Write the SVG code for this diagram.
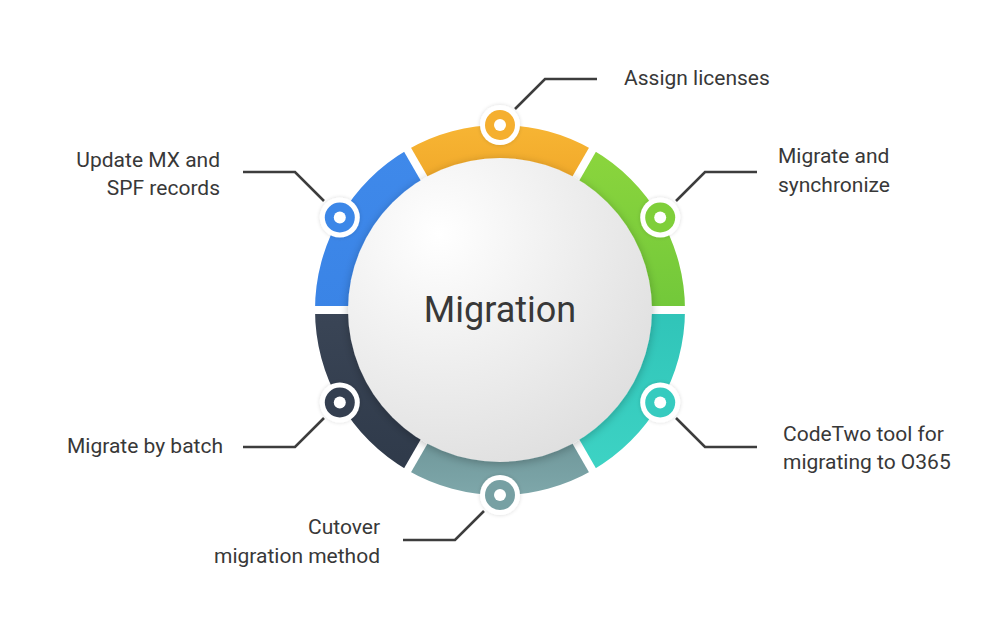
<svg xmlns="http://www.w3.org/2000/svg" width="1000" height="626" viewBox="0 0 1000 626">
<style>
.lbl{font-family:Roboto,"Liberation Sans",sans-serif;font-size:21px;fill:#383838}
.end{text-anchor:end}
.conn{fill:none;stroke:#3d3d3d;stroke-width:2.6}
.gap{stroke:#ffffff;stroke-width:8}
.halo{fill:#ffffff}
.hole{fill:#ffffff}
</style>
<defs>
<radialGradient id="cg" cx="0.3" cy="0.25" r="0.85">
<stop offset="0" stop-color="#ffffff"/>
<stop offset="1" stop-color="#dedede"/>
</radialGradient>
<linearGradient id="gOr" x1="0" y1="0" x2="0" y2="1"><stop offset="0" stop-color="#f7b534"/><stop offset="1" stop-color="#f1a92a"/></linearGradient>
<linearGradient id="gGr" x1="0" y1="0" x2="0" y2="1"><stop offset="0" stop-color="#8bd53d"/><stop offset="1" stop-color="#72c83a"/></linearGradient>
<linearGradient id="gTe" x1="0" y1="0" x2="0" y2="1"><stop offset="0" stop-color="#30c4b8"/><stop offset="1" stop-color="#3dd3c4"/></linearGradient>
<linearGradient id="gSl" x1="0" y1="0" x2="0" y2="1"><stop offset="0" stop-color="#6f979a"/><stop offset="1" stop-color="#7ea7aa"/></linearGradient>
<linearGradient id="gDk" x1="0" y1="0" x2="0" y2="1"><stop offset="0" stop-color="#3a4556"/><stop offset="1" stop-color="#2f3a4a"/></linearGradient>
<linearGradient id="gBl" x1="0" y1="0" x2="0" y2="1"><stop offset="0" stop-color="#3f89ea"/><stop offset="1" stop-color="#3a84e6"/></linearGradient>
<filter id="sh" x="-20%" y="-20%" width="140%" height="140%">
<feGaussianBlur in="SourceAlpha" stdDeviation="5"/>
<feOffset dx="0" dy="2" result="b"/>
<feComponentTransfer><feFuncA type="linear" slope="0.25"/></feComponentTransfer>
<feMerge><feMergeNode/><feMergeNode in="SourceGraphic"/></feMerge>
</filter>
<filter id="dsh" x="-50%" y="-50%" width="200%" height="200%">
<feGaussianBlur in="SourceAlpha" stdDeviation="2"/>
<feComponentTransfer><feFuncA type="linear" slope="0.15"/></feComponentTransfer>
<feMerge><feMergeNode/><feMergeNode in="SourceGraphic"/></feMerge>
</filter>
</defs>
<rect width="1000" height="626" fill="#ffffff"/>

<g id="ring">
<path fill="url(#gOr)" d="M592.5,149.79 A185,185 0 0 0 407.5,149.79 L425,180.1 A150,150 0 0 1 575,180.1 Z"/>
<path fill="url(#gGr)" d="M685,310 A185,185 0 0 0 592.5,149.79 L575,180.1 A150,150 0 0 1 650,310 Z"/>
<path fill="url(#gTe)" d="M592.5,470.21 A185,185 0 0 0 685,310 L650,310 A150,150 0 0 1 575,439.9 Z"/>
<path fill="url(#gSl)" d="M407.5,470.21 A185,185 0 0 0 592.5,470.21 L575,439.9 A150,150 0 0 1 425,439.9 Z"/>
<path fill="url(#gDk)" d="M315,310 A185,185 0 0 0 407.5,470.21 L425,439.9 A150,150 0 0 1 350,310 Z"/>
<path fill="url(#gBl)" d="M407.5,149.79 A185,185 0 0 0 315,310 L350,310 A150,150 0 0 1 425,180.1 Z"/>
<line class="gap" x1="300" y1="310" x2="700" y2="310"/>
<line class="gap" x1="597.5" y1="141.1" x2="402.5" y2="478.9"/>
<line class="gap" x1="402.5" y1="141.1" x2="597.5" y2="478.9"/>
</g>

<g id="center">
<circle cx="500" cy="310" r="152" fill="url(#cg)" filter="url(#sh)"/>
<text x="500" y="322" text-anchor="middle" style="font-family:Roboto,'Liberation Sans',sans-serif;font-size:36px;fill:#383838">Migration</text>
</g>

<g id="connectors">
<path class="conn" d="M515,109 L545,79 L597,79"/>
<path class="conn" d="M676,201 L705,172 L757,172"/>
<path class="conn" d="M676,418 L705,447 L757,447"/>
<path class="conn" d="M484,511 L455,540 L403,540"/>
<path class="conn" d="M324,418 L295,447 L243,447"/>
<path class="conn" d="M324,201 L295,172 L243,172"/>
</g>

<g id="node-assign">
<circle class="halo" cx="500" cy="125" r="20" filter="url(#dsh)"/>
<circle cx="500" cy="125" r="15" fill="#f5af2f"/>
<circle class="hole" cx="500" cy="125" r="6"/>
<text class="lbl" x="624" y="85">Assign licenses</text>
</g>
<g id="node-sync">
<circle class="halo" cx="660.2" cy="217.5" r="20" filter="url(#dsh)"/>
<circle cx="660.2" cy="217.5" r="15" fill="#7fcf3a"/>
<circle class="hole" cx="660.2" cy="217.5" r="6"/>
<text class="lbl" x="778" y="163">Migrate and</text>
<text class="lbl" x="778" y="192">synchronize</text>
</g>
<g id="node-codetwo">
<circle class="halo" cx="660.2" cy="402.5" r="20" filter="url(#dsh)"/>
<circle cx="660.2" cy="402.5" r="15" fill="#36cbbf"/>
<circle class="hole" cx="660.2" cy="402.5" r="6"/>
<text class="lbl" x="783" y="441">CodeTwo tool for</text>
<text class="lbl" x="783" y="469">migrating to O365</text>
</g>
<g id="node-cutover">
<circle class="halo" cx="500" cy="495" r="20" filter="url(#dsh)"/>
<circle cx="500" cy="495" r="15" fill="#77a0a3"/>
<circle class="hole" cx="500" cy="495" r="6"/>
<text class="lbl end" x="380" y="534">Cutover</text>
<text class="lbl end" x="380" y="563">migration method</text>
</g>
<g id="node-batch">
<circle class="halo" cx="339.8" cy="402.5" r="20" filter="url(#dsh)"/>
<circle cx="339.8" cy="402.5" r="15" fill="#343f50"/>
<circle class="hole" cx="339.8" cy="402.5" r="6"/>
<text class="lbl end" x="223" y="453">Migrate by batch</text>
</g>
<g id="node-mx">
<circle class="halo" cx="339.8" cy="217.5" r="20" filter="url(#dsh)"/>
<circle cx="339.8" cy="217.5" r="15" fill="#3c87e8"/>
<circle class="hole" cx="339.8" cy="217.5" r="6"/>
<text class="lbl end" x="220" y="167">Update MX and</text>
<text class="lbl end" x="220" y="195">SPF records</text>
</g>
</svg>
